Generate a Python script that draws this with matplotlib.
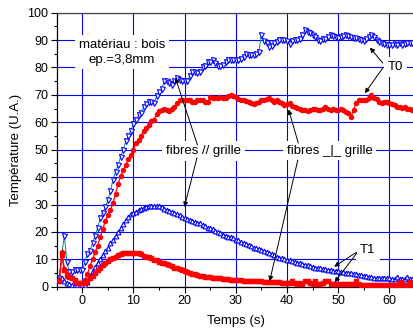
import numpy as np
import matplotlib
matplotlib.use("Agg")
import matplotlib.pyplot as plt
from matplotlib.ticker import MultipleLocator

plt.rcParams['font.family'] = ['Liberation Sans', 'DejaVu Sans']

# sampling times (s)
t_start, t_step, t_end = -4.5, 0.5, 65.0
time = np.arange(t_start, t_end + 1e-9, t_step)

# T0, fibres // grille (blue inverted triangles)
t0_par = [3, 12, 18.5, 9, 5.5, 5.5, 6, 6, 6, 6,
          9, 12, 13, 16, 18.5, 21.5, 25, 27, 29, 31.5,
          35, 39, 42, 44.5, 47.5, 50, 53, 55, 57, 59.5,
          61, 62.5, 63.5, 65.5, 66.5, 67.5, 67.5, 67, 69.5, 71,
          72, 75, 75, 74.5, 73.5, 75, 76, 75.5, 75, 75,
          75, 77, 78.5, 78.5, 78, 78.5, 80, 80.5, 82, 82,
          82.7, 81.5, 80.5, 80.5, 81, 82, 82.7, 82.7, 82.7, 82.7,
          82.7, 83, 84, 85, 84.6, 84.6, 84.6, 85, 85.8, 91.9,
          89.5, 89, 87.5, 88, 89, 89.4, 90, 90, 90, 89.5,
          88.7, 89.5, 90, 90, 90.5, 92, 93.7, 93, 92.5, 92,
          91, 90, 89.5, 90.5, 90.5, 91, 91.9, 91.5, 91, 90.6,
          91, 91.5, 91.9, 91.5, 91, 90.6, 90.6, 90.5, 90, 89.5,
          90.5, 91, 91.9, 91, 90, 89.4, 88.8, 88.5, 88.2, 88.2,
          88.2, 88.5, 88.2, 88.8, 88.2, 88.5, 88.8, 88.8, 89, 89]

# T0, fibres _|_ grille (red circles)
t0_perp = [2, 12.5, 6.5, 4.5, 3.5, 3.2, 2, 1.5, 1.5, 1.5,
           2.5, 4.5, 7.5, 10, 12.5, 15, 18, 21, 24, 26,
           28, 30.5, 34, 37.5, 40.5, 42.5, 44.5, 46.5, 48.2, 50,
           52.5, 53.5, 55, 57, 58, 59, 60.5, 61, 63, 64,
           64.5, 65, 64.5, 64, 65, 65.5, 67, 68, 68, 68,
           68, 68, 67.5, 67.5, 68, 68, 68, 67.5, 67.5, 69.3,
           69, 68.7, 69, 69.3, 68.7, 68.7, 69.5, 70, 69.5, 69.3,
           68.5, 68.1, 68.1, 67.8, 67.5, 67, 66.5, 67, 67.5, 68,
           68.1, 68.5, 68.7, 68, 67.5, 68, 67.5, 67, 66.3, 66.5,
           66.9, 66, 65.5, 65.3, 65, 64.5, 64.5, 64, 64.5, 65,
           65, 64.5, 64.5, 65, 65.7, 65, 64.5, 64.8, 64.5, 64.5,
           65, 64.5, 63.9, 63.5, 62, 64.5, 67, 68.1, 68.1, 68.1,
           68.3, 69, 70, 69, 68.5, 67.5, 66.9, 67.5, 67.5, 67,
           66.5, 66.3, 65.7, 65.5, 65.1, 65.5, 65, 65, 64.5, 64.5]

# T1, fibres // grille (blue triangles)
t1_par = [2.5, 3, 2, 1.5, 1, 0.5, 0.5, 0.5, 0.5, 0.5,
          0.7, 1.8, 3.8, 5.6, 7.3, 8.8, 10.2, 11.6, 13, 14.3,
          15.8, 17, 18.5, 20, 21.3, 22.8, 24.2, 25.5, 26.6, 27,
          27.4, 28, 28.3, 28.8, 29.2, 29.3, 29.4, 29.4, 29.4, 29.4,
          29, 28.5, 28, 27.6, 27.2, 26.8, 26.5, 26.2, 25.5, 25,
          24.6, 24.4, 24, 23.7, 23.3, 23.1, 22.5, 22, 21.6, 21.3,
          21, 20.4, 20, 19.5, 19, 18.6, 18.2, 18, 17.6, 17.2,
          17, 16.4, 15.8, 15.5, 15.2, 14.8, 14.2, 14, 13.6, 13.4,
          13, 12.7, 12.3, 11.8, 11.5, 11, 10.6, 10.4, 10.1, 9.9,
          9.7, 9.4, 9.1, 8.8, 8.5, 8.3, 8, 7.8, 7.6, 7.3,
          7, 6.9, 6.7, 6.5, 6.4, 6.2, 6.1, 5.9, 5.8, 5.6,
          5.5, 5.2, 5.1, 5, 4.9, 4.7, 4.5, 4.3, 4.2, 4,
          3.8, 3.6, 3.5, 3.3, 3.1, 3, 3, 3, 3, 3,
          2.8, 2.8, 3.4, 2.8, 2.7, 2.7, 3.5, 2.8, 2.7, 2.7]

# T1, fibres _|_ grille (red squares)
t1_perp = [2, 11.5, 6, 4, 3.5, 3, 2.5, 1.5, 1.5, 1.5,
           1.5, 2, 3, 4, 5, 6, 7, 7.8, 8.5, 9.2,
           10, 10.5, 11, 11.5, 12, 12.2, 12.2, 12.2, 12.2, 12.2,
           12.2, 12.2, 12, 11.2, 11, 10.8, 10.4, 9.9, 9.7, 9.1,
           8.8, 8.5, 8.2, 7.8, 7.4, 7, 6.7, 6.5, 6.2, 5.8,
           5.3, 4.9, 4.7, 4.5, 4.3, 4, 3.8, 3.6, 3.5, 3.4,
           3.3, 3.2, 3, 3, 2.8, 2.7, 2.7, 2.5, 2.4, 2.4,
           2.4, 2.3, 2.2, 2.2, 2.2, 2.2, 2.2, 2.2, 2, 1.9,
           1.8, 1.8, 1.8, 1.8, 1.8, 1.8, 1.6, 1.5, 1.3, 1.2,
           1.2, 2.2, 1.2, 1.0, 1.2, 1.0, 2.2, 2.2, 1.2, 1.0,
           2.2, 1.0, 1.0, 1.2, 2.2, 2.2, 1.0, 0.9, 1.0, 0.9,
           1.0, 0.9, 0.9, 1.0, 0.9, 0.9, 2.0, 0.9, 0.8, 0.8,
           0.8, 0.8, 0.8, 0.8, 0.8, 0.8, 0.7, 0.7, 0.7, 0.7,
           0.7, 0.7, 0.7, 1.8, 0.7, 0.7, 0.7, 1.8, 0.7, 0.7]

x_ticks = [0, 10, 20, 30, 40, 50, 60]
y_ticks = [0, 10, 20, 30, 40, 50, 60, 70, 80, 90, 100]
xlabel = "Temps (s)"
ylabel = "Température (U.A.)"

fig = plt.figure(figsize=(4.13, 3.33), dpi=100)
ax = fig.add_axes([56.7 / 413, (333 - 286.7) / 333, 358.3 / 413, 274.0 / 333])

BLUE = '#0000ff'
ax.grid(True, which='major', color=BLUE, lw=0.8, zorder=0)
ax.set_axisbelow(True)

ax.plot(time, t0_par, color='#008b8b', lw=0.7, marker='v', ms=3.6,
        mfc='white', mec=BLUE, mew=0.8, zorder=3)
ax.plot(time, t1_par, color='#008b8b', lw=0.7, marker='^', ms=3.4,
        mfc='white', mec=BLUE, mew=0.8, zorder=3)
ax.plot(time, t0_perp, color='red', lw=0.9, marker='o', ms=2.9,
        mfc='red', mec='red', zorder=4)
ax.plot(time, t1_perp, color='red', lw=0.9, marker='s', ms=3.1,
        mfc='red', mec='red', zorder=4)

ax.set_xlim(-5, 65)
ax.set_ylim(0, 100)
ax.set_xticks(x_ticks)
ax.set_yticks(y_ticks)
ax.xaxis.set_minor_locator(MultipleLocator(5))
ax.yaxis.set_minor_locator(MultipleLocator(5))
ax.tick_params(which='major', direction='out', length=4.5, width=0.8, labelsize=9, pad=1.5)
ax.tick_params(which='minor', direction='out', length=2.5, width=0.8)
ax.set_xlabel(xlabel, fontsize=9.5, labelpad=6)
ax.set_ylabel(ylabel, fontsize=9.5, labelpad=4)
for s in ax.spines.values():
    s.set_linewidth(0.9)
ax.spines['top'].set_color('#444444')

box = dict(boxstyle='square,pad=0.3', fc='white', ec='none')
tk = dict(fontsize=9.5, ha='center', va='center', zorder=6, bbox=box)
ax.text(7.7, 85.6, "matériau : bois\nep.=3,8mm", linespacing=1.3, **tk)
ax.text(23.7, 49.5, "fibres // grille", **tk)
ax.text(48.3, 49.7, "fibres _|_ grille", **tk)
ax.text(61.2, 80.2, "T0", **tk)
ax.text(55.8, 13.4, "T1", **tk)

ap = dict(arrowstyle='-|>', color='k', lw=0.7, mutation_scale=7,
          shrinkA=0, shrinkB=0)
arrows = [((22.5, 51.7), (18.2, 76.2)),
          ((22.4, 47.0), (19.95, 29.1)),
          ((42.2, 52.4), (40.3, 64.7)),
          ((42.1, 46.2), (36.6, 2.0)),
          ((58.7, 81.6), (56.2, 87.3)),
          ((58.7, 79.8), (55.2, 70.6)),
          ((53.6, 12.6), (49.2, 7.3)),
          ((53.6, 12.2), (49.3, 1.6))]
for (xs, ys), (xe, ye) in arrows:
    ax.annotate('', xy=(xe, ye), xytext=(xs, ys), arrowprops=ap, zorder=7)

fig.savefig('out.png', dpi=100)
